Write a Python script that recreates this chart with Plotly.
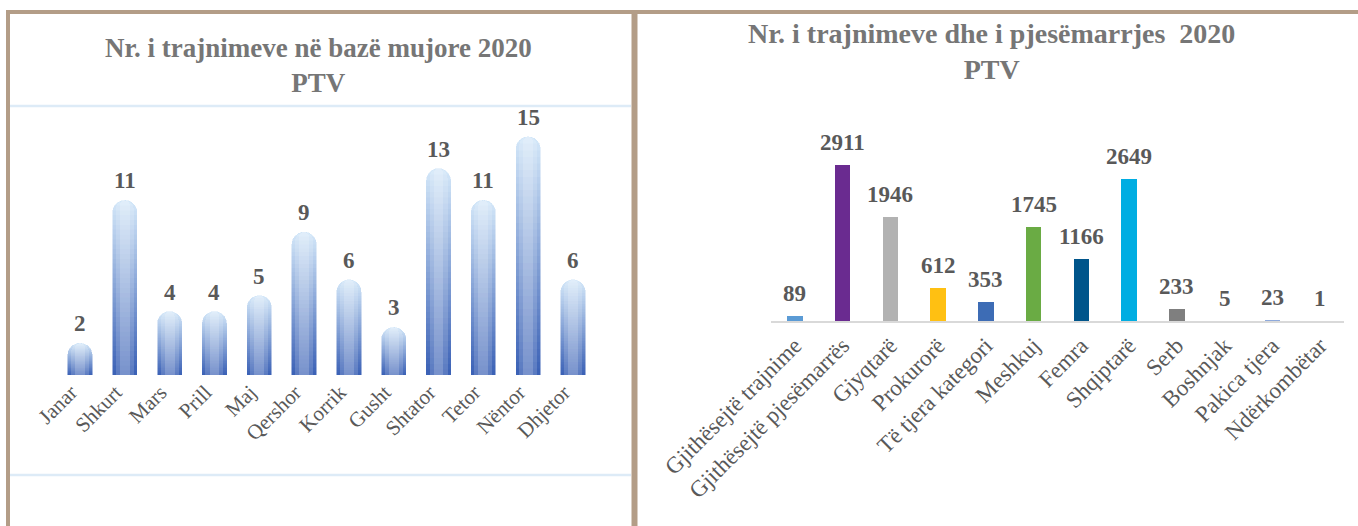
import plotly.graph_objects as go

# ---------------- data ----------------
months = ["Janar", "Shkurt", "Mars", "Prill", "Maj", "Qershor", "Korrik",
          "Gusht", "Shtator", "Tetor", "Nëntor", "Dhjetor"]
monthly_trainings = [2, 11, 4, 4, 5, 9, 6, 3, 13, 11, 15, 6]

categories = ["Gjithësejtë trajnime", "Gjithësejtë pjesëmarrës", "Gjyqtarë",
              "Prokurorë", "Të tjera kategori", "Meshkuj", "Femra",
              "Shqiptarë", "Serb", "Boshnjak", "Pakica tjera", "Ndërkombëtar"]
category_counts = [89, 2911, 1946, 612, 353, 1745, 1166, 2649, 233, 5, 23, 1]

left_title = "Nr. i trajnimeve në bazë mujore 2020<br>PTV"
right_title = "Nr. i trajnimeve dhe i pjesëmarrjes  2020<br>PTV"

# ---------------- style ----------------
W, H = 1358, 526
FONT = "Liberation Serif"
TXT = "#595959"
TITLE_C = "#767676"
BROWN = "#B39D87"
LIGHTBLUE = "#DDEBF7"
cat_colors = ["#5B9BD5", "#6A2B90", "#B2B2B2", "#FFC012", "#3D6CB5", "#6AAB44",
              "#00558B", "#00ADE2", "#7F7F7F", "#264478", "#8EA9DB", "#9E480E"]


def px_x(x):
    return x / W


def px_y(y):
    return 1 - y / H


fig = go.Figure()

# cylinder-like bars: stacked gradient segments (rounded at top of stack)
N = 36
bottom = (60, 98, 182)
top = (210, 230, 248)
for i in range(N):
    t = i / (N - 1)
    c = tuple(round(bottom[k] + (top[k] - bottom[k]) * t) for k in range(3))
    col = "rgb(%d,%d,%d)" % c
    fig.add_trace(go.Bar(
        x=months,
        y=[v / N for v in monthly_trainings],
        width=0.54,
        marker=dict(color=col, line=dict(width=0.5, color=col)),
        xaxis="x", yaxis="y", hoverinfo="skip", showlegend=False,
    ))
# cylinder highlight on overlaying axis pairs
fig.add_trace(go.Bar(
    x=months, y=monthly_trainings, width=0.40,
    marker=dict(color="rgba(255,255,255,0.16)", line=dict(width=0)),
    xaxis="x3", yaxis="y3", hoverinfo="skip", showlegend=False,
))
fig.add_trace(go.Bar(
    x=months, y=monthly_trainings, width=0.22,
    marker=dict(color="rgba(255,255,255,0.18)", line=dict(width=0)),
    xaxis="x4", yaxis="y4", hoverinfo="skip", showlegend=False,
))

# right chart bars
fig.add_trace(go.Bar(
    x=categories, y=category_counts, width=0.32,
    marker=dict(color=cat_colors, line=dict(width=0), cornerradius=0),
    xaxis="x2", yaxis="y2", hoverinfo="skip", showlegend=False,
))

annotations = []
for m, v in zip(months, monthly_trainings):
    annotations.append(dict(
        x=m, y=v, xref="x", yref="y", yanchor="bottom", yshift=5,
        text="<b>%d</b>" % v, showarrow=False,
        font=dict(family=FONT, size=23, color=TXT)))
for c, v in zip(categories, category_counts):
    annotations.append(dict(
        x=c, y=v, xref="x2", yref="y2", yanchor="bottom", yshift=8,
        text="<b>%d</b>" % v, showarrow=False,
        font=dict(family=FONT, size=23, color=TXT)))

annotations.append(dict(
    x=px_x(318), y=px_y(65), xref="paper", yref="paper",
    xanchor="center", yanchor="middle",
    text="<b>" + left_title + "</b>", showarrow=False,
    font=dict(family=FONT, size=27, color=TITLE_C)))
annotations.append(dict(
    x=px_x(991), y=px_y(51), xref="paper", yref="paper",
    xanchor="center", yanchor="middle",
    text="<b>" + right_title + "</b>", showarrow=False,
    font=dict(family=FONT, size=28, color=TITLE_C)))

shapes = [
    dict(type="line", xref="paper", yref="paper", x0=px_x(10), x1=px_x(631),
         y0=px_y(106), y1=px_y(106), line=dict(color=LIGHTBLUE, width=2.5)),
    dict(type="line", xref="paper", yref="paper", x0=px_x(10), x1=px_x(631),
         y0=px_y(475), y1=px_y(475), line=dict(color=LIGHTBLUE, width=2.5)),
    dict(type="line", xref="paper", yref="paper", x0=px_x(6), x1=1,
         y0=px_y(12), y1=px_y(12), line=dict(color=BROWN, width=4)),
    dict(type="line", xref="paper", yref="paper", x0=px_x(8), x1=px_x(8),
         y0=px_y(10), y1=0, line=dict(color=BROWN, width=4)),
    dict(type="line", xref="paper", yref="paper", x0=px_x(634.5), x1=px_x(634.5),
         y0=px_y(10), y1=0, line=dict(color=BROWN, width=6)),
]

left_xdom = [px_x(57.6), px_x(595.4)]
left_ydom = [px_y(375), px_y(121)]
hidden_x = dict(domain=left_xdom, type="category", automargin=False,
                range=[-0.5, 11.5], overlaying="x", visible=False)
hidden_y = dict(domain=left_ydom, range=[0, 16], automargin=False,
                overlaying="y", visible=False)

fig.update_layout(
    width=W, height=H,
    margin=dict(l=0, r=0, t=0, b=0, pad=0),
    paper_bgcolor="white", plot_bgcolor="rgba(0,0,0,0)",
    barmode="stack", barcornerradius=12,
    showlegend=False,
    annotations=annotations,
    shapes=shapes,
    xaxis=dict(domain=left_xdom, anchor="y", type="category", automargin=False,
               range=[-0.5, 11.5], tickangle=-45, showline=False, showgrid=False,
               zeroline=False, ticks="", ticklabelshift=-9,
               tickfont=dict(family=FONT, size=21, color=TXT)),
    yaxis=dict(domain=left_ydom, anchor="x", range=[0, 16], automargin=False,
               showgrid=False, zeroline=False, showticklabels=False, showline=False),
    xaxis3=dict(hidden_x, anchor="y3"),
    yaxis3=dict(hidden_y, anchor="x3"),
    xaxis4=dict(hidden_x, anchor="y4"),
    yaxis4=dict(hidden_y, anchor="x4"),
    xaxis2=dict(domain=[px_x(771), px_x(1344)], anchor="y2", type="category",
                automargin=False, range=[-0.5, 11.5], tickangle=-45, showline=True,
                linecolor="#D9D9D9", linewidth=2, showgrid=False, zeroline=False,
                ticks="", tickfont=dict(family=FONT, size=23, color=TXT)),
    yaxis2=dict(domain=[px_y(321), px_y(149.5)], anchor="x2", range=[0, 3200],
                automargin=False, showgrid=False, zeroline=False,
                showticklabels=False, showline=False),
)

fig.write_html("out.html", config={"displayModeBar": False},
               post_script="document.body.style.margin='0';")
